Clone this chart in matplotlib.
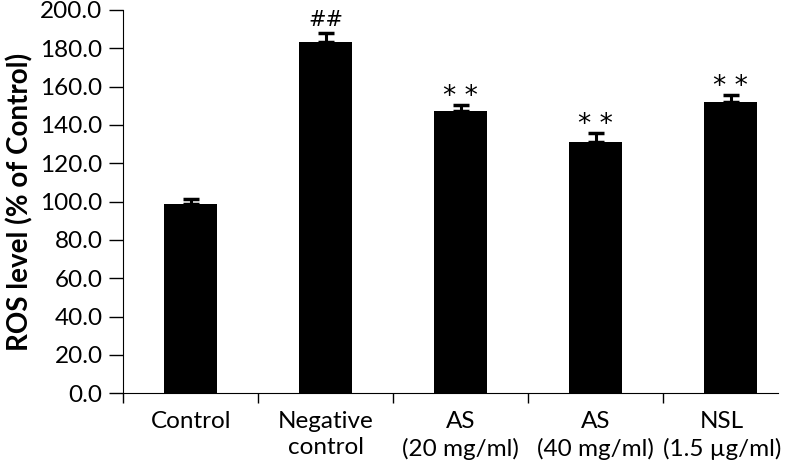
import numpy as np
import matplotlib.pyplot as plt
import matplotlib.transforms as mtrans

groups = ['Control', 'Negative\ncontrol', 'AS\n(20 mg/ml)', 'AS\n(40 mg/ml)', 'NSL\n(1.5 \u00b5g/ml)']
ros = [98.8, 183.0, 147.0, 131.2, 152.0]
sem = [2.5, 5.0, 3.5, 4.5, 3.5]
marks = ['', '##', '* *', '* *', '* *']

plt.rcParams['font.family'] = ['Lato', 'DejaVu Sans']

fig = plt.figure(figsize=(7.86, 4.72), dpi=100)
ax = fig.add_axes([0.157, 0.167, 0.833, 0.812])

x = np.arange(len(groups))
ax.bar(x, ros, width=0.393, color='black', zorder=2)
ax.errorbar(x, ros, yerr=[np.zeros(len(sem)), sem], fmt='none', ecolor='black',
            elinewidth=2.2, capsize=6, capthick=2.5, zorder=3)

for xi, v, e, m in zip(x, ros, sem, marks):
    if m == '##':
        ax.annotate(m, (xi, v + e), xytext=(0, 7), textcoords='offset pixels',
                    ha='center', va='baseline', fontsize=15, family='DejaVu Sans')
    elif m:
        ax.annotate(m, (xi, v + e), xytext=(0, 1), textcoords='offset pixels',
                    ha='center', va='baseline', fontsize=19, family='DejaVu Sans')

ax.set_ylim(0, 200)
ax.set_yticks(np.arange(0, 201, 20))
ax.set_yticklabels(['%.1f' % t for t in np.arange(0, 201, 20)], fontsize=17.5)
ax.set_ylabel('ROS level (% of Control)', fontsize=20, fontweight='bold', labelpad=5)

ax.set_xlim(-0.5, 4.35)
ax.set_xticks(x)
ax.set_xticklabels(groups, fontsize=17.5, linespacing=1.3)
ax.tick_params(axis='x', which='major', length=0, pad=13)
ax.set_xticks(np.arange(-0.5, 4.5, 1.0), minor=True)
ax.tick_params(axis='x', which='minor', length=7, width=1)
ax.tick_params(axis='y', length=10, width=1, pad=5)

# last label sits a little left of its bar, as in the original
last = ax.get_xticklabels()[-1]
last.set_transform(last.get_transform() + mtrans.ScaledTranslation(-0.09, 0, fig.dpi_scale_trans))

ax.spines['top'].set_visible(False)
ax.spines['right'].set_visible(False)

fig.savefig('out.png', dpi=100)
